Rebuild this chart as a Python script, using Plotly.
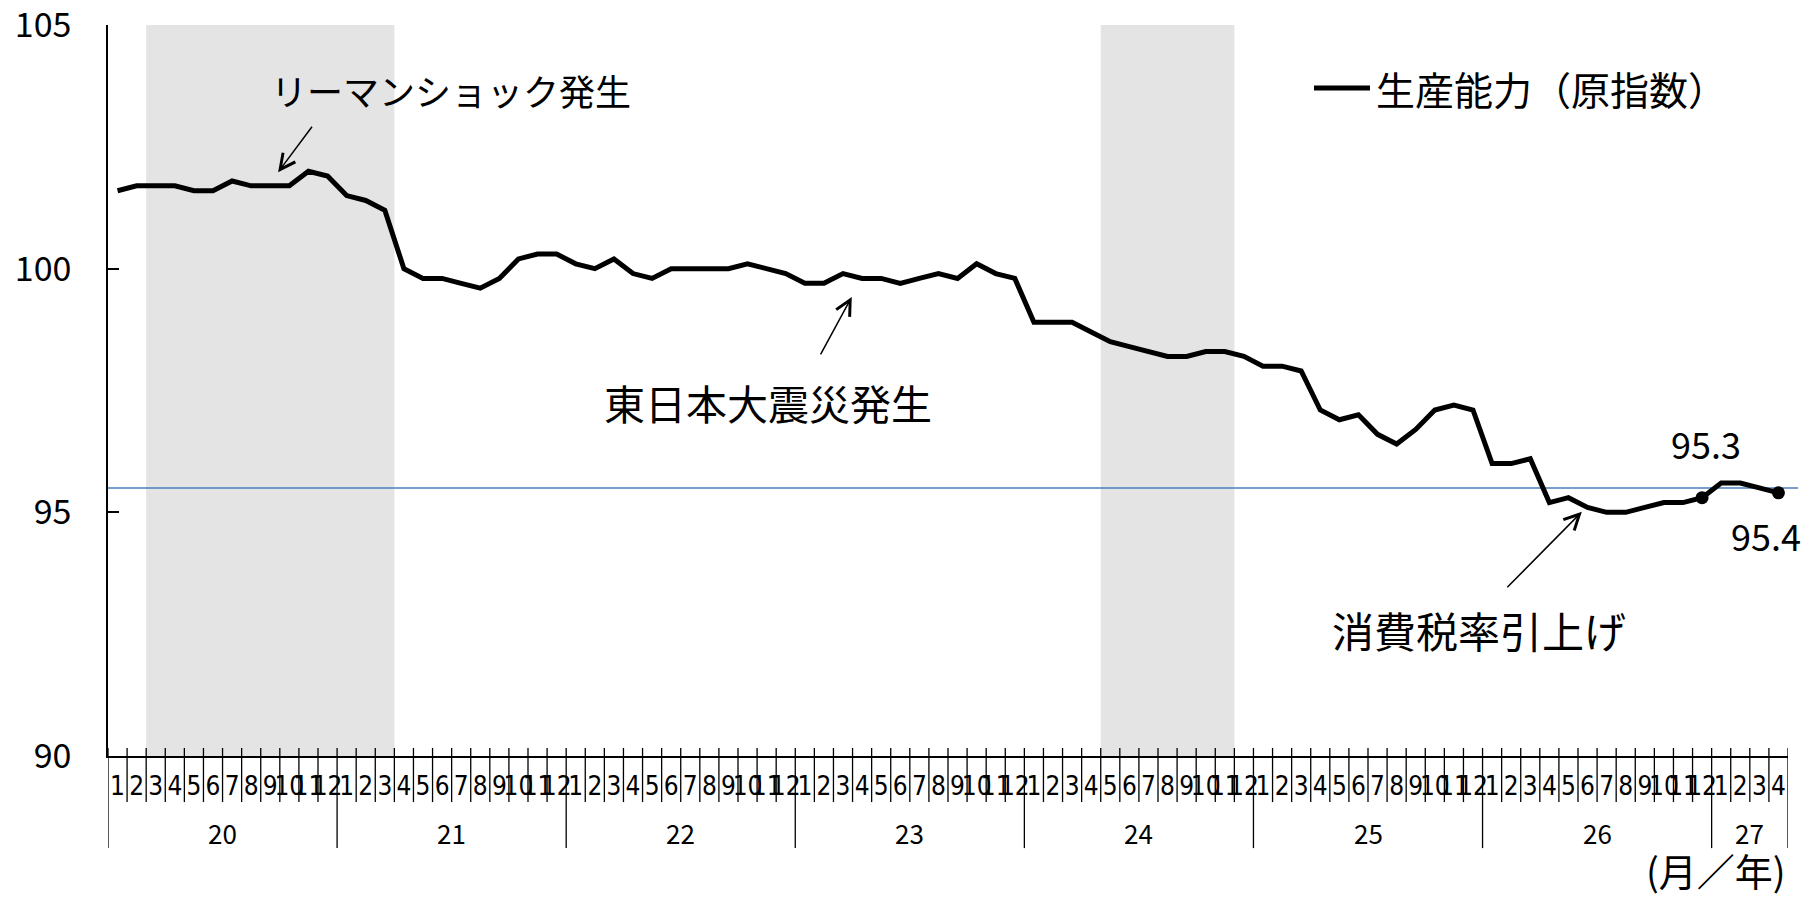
import plotly.graph_objects as go

# ---------------- data ----------------
years = ["20", "21", "22", "23", "24", "25", "26", "27"]
months_per_year = [12, 12, 12, 12, 12, 12, 12, 4]

values_h20 = [101.6, 101.7, 101.7, 101.7, 101.6, 101.6, 101.8, 101.7, 101.7, 101.7, 102.0, 101.9]
values_h21 = [101.5, 101.4, 101.2, 100.0, 99.8, 99.8, 99.7, 99.6, 99.8, 100.2, 100.3, 100.3]
values_h22 = [100.1, 100.0, 100.2, 99.9, 99.8, 100.0, 100.0, 100.0, 100.0, 100.1, 100.0, 99.9]
values_h23 = [99.7, 99.7, 99.9, 99.8, 99.8, 99.7, 99.8, 99.9, 99.8, 100.1, 99.9, 99.8]
values_h24 = [98.9, 98.9, 98.9, 98.7, 98.5, 98.4, 98.3, 98.2, 98.2, 98.3, 98.3, 98.2]
values_h25 = [98.0, 98.0, 97.9, 97.1, 96.9, 97.0, 96.6, 96.4, 96.7, 97.1, 97.2, 97.1]
values_h26 = [96.0, 96.0, 96.1, 95.2, 95.3, 95.1, 95.0, 95.0, 95.1, 95.2, 95.2, 95.3]
values_h27 = [95.6, 95.6, 95.5, 95.4]

series_name = "生産能力（原指数）"
# recession periods: (start year, start month), (end year, end month)
recession_periods = [(("20", 3), ("21", 3)), (("24", 5), ("24", 11))]
# highlighted points with labels
marked_points = [("26", 12, "95.3"), ("27", 4, "95.4")]
reference_level = 95.5

y_ticks = [90, 95, 100, 105]

# ---------------- derived ----------------
values = (values_h20 + values_h21 + values_h22 + values_h23 +
          values_h24 + values_h25 + values_h26 + values_h27)
month_labels = []
year_start = {}
pos = 0
for y, n in zip(years, months_per_year):
    year_start[y] = pos
    month_labels += [str(m) for m in range(1, n + 1)]
    pos += n
x_idx = list(range(len(values)))


def idx(year, month):
    return year_start[year] + month - 1


FONT = "Noto Sans CJK JP, Noto Sans, sans-serif"
NARROW = "Liberation Sans Narrow, DejaVu Sans Condensed, Noto Sans CJK JP, sans-serif"

fig = go.Figure()

fig.add_trace(go.Scatter(
    x=x_idx, y=values, mode="lines", name=series_name,
    line=dict(color="black", width=5), showlegend=False,
))

mx = [idx(y, m) for y, m, _ in marked_points]
my = [values[i] for i in mx]
fig.add_trace(go.Scatter(
    x=mx, y=my, mode="markers", marker=dict(color="black", size=13),
    showlegend=False, hoverinfo="skip",
))

# plot area: 1680 x 731 px
PW, PH = 1680, 731
LEG_Y = (756 - 88) / PH

shapes = []
for (ys, ms), (ye, me) in recession_periods:
    shapes.append(dict(type="rect", xref="x", yref="paper",
                       x0=idx(ys, ms) - 0.5, x1=idx(ye, me) + 0.5, y0=0, y1=1,
                       fillcolor="#e4e4e4", line=dict(width=0), layer="below"))
shapes.append(dict(type="line", xref="paper", yref="y", x0=0, x1=1.006,
                   y0=reference_level, y1=reference_level,
                   line=dict(color="#4a7ebb", width=1.5), layer="below"))
year_bounds = set(year_start.values()) | {len(values)}
for b in range(len(values) + 1):
    is_year = b in year_bounds
    shapes.append(dict(type="line", xref="x", yref="paper",
                       x0=b - 0.5, x1=b - 0.5,
                       y0=0.011, y1=-0.126 if is_year else -0.063,
                       line=dict(color="black", width=1.3)))
shapes.append(dict(type="line", xref="paper", yref="paper",
                   x0=(1314 - 108) / PW, x1=(1370 - 108) / PW,
                   y0=LEG_Y, y1=LEG_Y,
                   line=dict(color="black", width=5)))

annotations = []
for y, n in zip(years, months_per_year):
    annotations.append(dict(x=year_start[y] + (n - 1) / 2, y=-0.105, xref="x", yref="paper",
                            text=y, showarrow=False, yanchor="middle",
                            font=dict(size=26, family=FONT, color="black")))
annotations.append(dict(x=1.0, y=-0.155, xref="paper", yref="paper", text="(月／年)",
                        showarrow=False, xanchor="right", yanchor="middle",
                        font=dict(size=38, family=FONT, color="black")))
annotations.append(dict(x=(1374 - 108) / PW, y=LEG_Y, xref="paper", yref="paper",
                        text=series_name, showarrow=False, xanchor="left", yanchor="middle",
                        font=dict(size=39, family=FONT, color="black")))
annotations.append(dict(x=17.47, y=103.67, xref="x", yref="y", text="リーマンショック発生",
                        showarrow=False, font=dict(size=36, family=FONT, color="black")))
annotations.append(dict(x=8.41, y=101.98, xref="x", yref="y", text="", showarrow=True,
                        ax=35, ay=-47, arrowhead=5, arrowsize=2, arrowwidth=1.5,
                        arrowcolor="black"))
annotations.append(dict(x=34.07, y=97.26, xref="x", yref="y", text="東日本大震災発生",
                        showarrow=False, font=dict(size=41, family=FONT, color="black")))
annotations.append(dict(x=38.46, y=99.42, xref="x", yref="y", text="", showarrow=True,
                        ax=-32, ay=59, arrowhead=5, arrowsize=2, arrowwidth=1.5,
                        arrowcolor="black"))
annotations.append(dict(x=71.34, y=92.6, xref="x", yref="y", text="消費税率引上げ",
                        showarrow=False, font=dict(size=42, family=FONT, color="black")))
annotations.append(dict(x=76.7, y=95.01, xref="x", yref="y", text="", showarrow=True,
                        ax=-76, ay=77, arrowhead=5, arrowsize=2, arrowwidth=1.5,
                        arrowcolor="black"))
shifts = [(4, 55), (-12, -42)]
for (i, v), (_, _, lab), (dx, dy) in zip(zip(mx, my), marked_points, shifts):
    annotations.append(dict(x=i, y=v, xref="x", yref="y", text=lab, showarrow=False,
                            xshift=dx, yshift=dy,
                            font=dict(size=36, family=FONT, color="black")))

# page body has an 8px margin: figure is offset by 8px
fig.update_layout(
    width=1802, height=890,
    margin=dict(l=100, r=22, t=17, b=142, pad=0, autoexpand=False),
    paper_bgcolor="white", plot_bgcolor="white",
    shapes=shapes, annotations=annotations,
    font=dict(family=FONT, color="black"),
    xaxis=dict(range=[-0.5, len(values) - 0.5], tickmode="array", tickvals=x_idx,
               ticktext=month_labels, tickangle=0, ticks="", showgrid=False,
               zeroline=False, showline=True, linecolor="black", linewidth=1.5,
               tickfont=dict(size=26, family=NARROW, color="black"),
               ticklabelstandoff=6, automargin=False),
    yaxis=dict(range=[89.999, 105.001], tickmode="array", tickvals=y_ticks,
               ticks="inside", ticklen=11, tickwidth=1.5, tickcolor="black",
               showgrid=False, zeroline=False, showline=True, linecolor="black",
               linewidth=1.5, tickfont=dict(size=34, family=FONT, color="black"),
               ticklabelstandoff=28, ticklabeloverflow="allow", automargin=False),
)

fig.write_html("out.html")
